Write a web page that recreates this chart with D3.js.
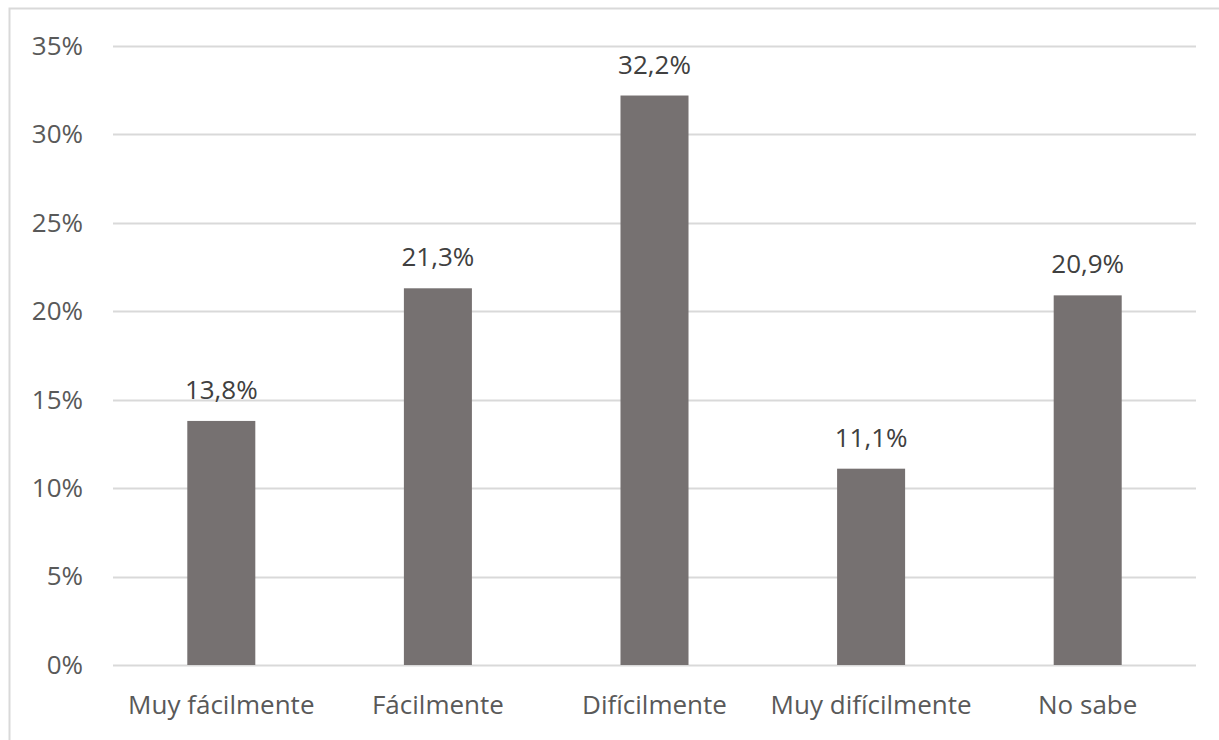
<!DOCTYPE html>
<html>
<head>
<meta charset="utf-8">
<script src="https://cdn.jsdelivr.net/npm/d3@7"></script>
<style>
  html, body { margin: 0; padding: 0; background: #ffffff; }
  svg { display: block; }
  text { font-family: "Open Sans", "Liberation Sans", sans-serif; }
</style>
</head>
<body>
<svg id="chart" width="1219" height="740"></svg>
<script>
// Respuestas y porcentajes
const categories = ["Muy fácilmente", "Fácilmente", "Difícilmente", "Muy difícilmente", "No sabe"];
const values = [13.8, 21.3, 32.2, 11.1, 20.9];
const yTicks = [0, 5, 10, 15, 20, 25, 30, 35];

const svg = d3.select("#chart");
const W = 1219, H = 740;
const margin = { left: 113, right: 23, top: 46, bottom: 75 };

// chart frame
svg.append("rect")
  .attr("x", 9.5).attr("y", 8.5)
  .attr("width", W + 20).attr("height", H + 20)
  .attr("fill", "#ffffff")
  .attr("stroke", "#d9d9d9").attr("stroke-width", 2);

const x = d3.scaleBand()
  .domain(categories)
  .range([margin.left, W - margin.right])
  .padding(0);

const y = d3.scaleLinear()
  .domain([0, 35])
  .range([H - margin.bottom, margin.top]);

const fmtPct = v => v.toFixed(1).replace(".", ",") + "%";

// gridlines
svg.append("g")
  .selectAll("line")
  .data(yTicks)
  .join("line")
  .attr("x1", margin.left).attr("x2", W - margin.right)
  .attr("y1", d => Math.round(y(d)) + 0.5)
  .attr("y2", d => Math.round(y(d)) + 0.5)
  .attr("stroke", "#d9d9d9").attr("stroke-width", 2);

// y axis labels
const yAxis = d3.axisLeft(y).tickValues(yTicks).tickFormat(d => d + "%").tickSize(0).tickPadding(30);
const gy = svg.append("g")
  .attr("transform", `translate(${margin.left},0)`)
  .call(yAxis);
gy.select(".domain").remove();
gy.selectAll("text")
  .attr("font-size", 26)
  .attr("fill", "#595959")
  .attr("font-family", "'Open Sans', sans-serif");

// bars
const barW = x.bandwidth() * 0.314;
svg.append("g")
  .selectAll("rect")
  .data(values)
  .join("rect")
  .attr("x", (d, i) => x(categories[i]) + x.bandwidth() / 2 - barW / 2)
  .attr("y", d => y(d))
  .attr("width", barW)
  .attr("height", d => y(0) - y(d))
  .attr("fill", "#767171");

// value labels
svg.append("g")
  .selectAll("text")
  .data(values)
  .join("text")
  .attr("x", (d, i) => x(categories[i]) + x.bandwidth() / 2)
  .attr("y", d => y(d) - 22)
  .attr("text-anchor", "middle")
  .attr("font-size", 26)
  .attr("fill", "#404040")
  .text(d => fmtPct(d));

// x axis labels
const xAxis = d3.axisBottom(x).tickSize(0).tickPadding(0);
const gx = svg.append("g")
  .attr("transform", `translate(0,${H - margin.bottom})`)
  .call(xAxis);
gx.select(".domain").remove();
gx.selectAll("text")
  .attr("dy", null)
  .attr("y", 49)
  .attr("font-size", 26)
  .attr("fill", "#595959")
  .attr("font-family", "'Open Sans', sans-serif");
</script>
</body>
</html>
